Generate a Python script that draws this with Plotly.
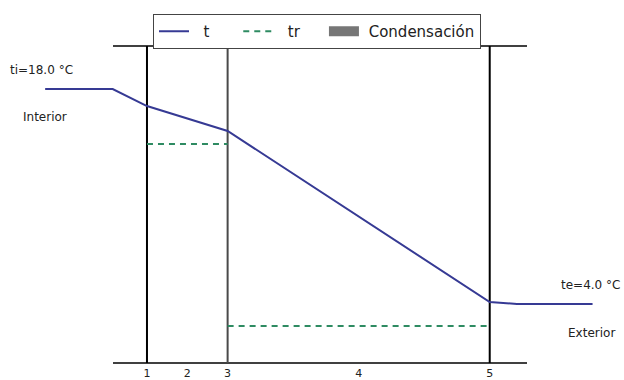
import plotly.graph_objects as go

# Wall section: interface positions (cm) and tick labels
tick_pos = [0, 4, 8, 21, 34]
tick_text = ["1", "2", "3", "4", "5"]
interfaces = [0, 8, 34]

# Temperature profile t (°C) through interior air, layers and exterior air
t_x = [-10.1, -3.4, 0, 8, 34, 36.7, 44.2]
t_y = [18.0, 18.0, 16.89, 15.27, 4.13, 4.0, 4.0]

# Dew-point temperature tr (°C)
tr_x = [0, 8, None, 8, 34]
tr_y = [14.42, 14.42, None, 2.57, 2.57]

ti = 18.0
te = 4.0

# axis window (data units)
x_min, x_max = -14.58, 47.32
y_min, y_max = 0.16, 20.8
wall_left, wall_right = -3.37, 37.7

sp = "\u00a0"

fig = go.Figure()

fig.add_trace(go.Scatter(x=t_x, y=t_y, mode="lines", name=sp * 2 + "t" + sp * 5,
                         line=dict(color="#363a94", width=2)))
fig.add_trace(go.Scatter(x=tr_x, y=tr_y, mode="lines", name=sp * 2 + "tr" + sp * 4,
                         line=dict(color="#2e8b62", width=2, dash="6px,5px")))
# condensation zones (none in this case) – legend entry only
fig.add_trace(go.Scatter(x=[None], y=[None], mode="lines", name=sp + "Condensación",
                         line=dict(color="#767676", width=10)))

shapes = []
# top and bottom frame lines
for yv in (0, 1):
    shapes.append(dict(type="line", xref="x", yref="paper", x0=wall_left, x1=wall_right,
                       y0=yv, y1=yv, line=dict(color="black", width=1.5), layer="below"))
# layer interfaces
for i, xv in enumerate(interfaces):
    shapes.append(dict(type="line", xref="x", yref="paper", x0=xv, x1=xv, y0=0, y1=1,
                       line=dict(color="#4a4a4a" if i == 1 else "black", width=2),
                       layer="below"))

txt_font = dict(family="DejaVu Sans", size=12, color="#222")
annotations = [
    dict(text=f"ti={ti:.1f} °C", x=8 / 624, y=(363 - 70) / 317, xanchor="left"),
    dict(text="Interior", x=21 / 624, y=(363 - 117) / 317, xanchor="left"),
    dict(text=f"te={te:.1f} °C", x=622 / 624, y=(363 - 285) / 317, xanchor="right"),
    dict(text="Exterior", x=617 / 624, y=(363 - 333) / 317, xanchor="right"),
]
for a in annotations:
    a.update(xref="paper", yref="paper", yanchor="middle", showarrow=False, font=txt_font)

fig.update_layout(
    width=624, height=380,
    margin=dict(l=0, r=0, t=46, b=17),
    paper_bgcolor="white", plot_bgcolor="white",
    font=dict(family="DejaVu Sans", size=12, color="#222"),
    xaxis=dict(range=[x_min, x_max], showgrid=False, zeroline=False, showline=False,
               tickvals=tick_pos, ticktext=tick_text, ticks="", ticklabelstandoff=2,
               tickfont=dict(size=11, color="#222")),
    yaxis=dict(range=[y_min, y_max], visible=False),
    shapes=shapes,
    annotations=annotations,
    showlegend=True,
    legend=dict(orientation="h", x=153 / 624, xanchor="left",
                y=(363 - 14) / 317, yanchor="top",
                bordercolor="#444", borderwidth=1, bgcolor="white",
                font=dict(family="DejaVu Sans", size=15, color="#222")),
)

fig.write_html("out.html")
